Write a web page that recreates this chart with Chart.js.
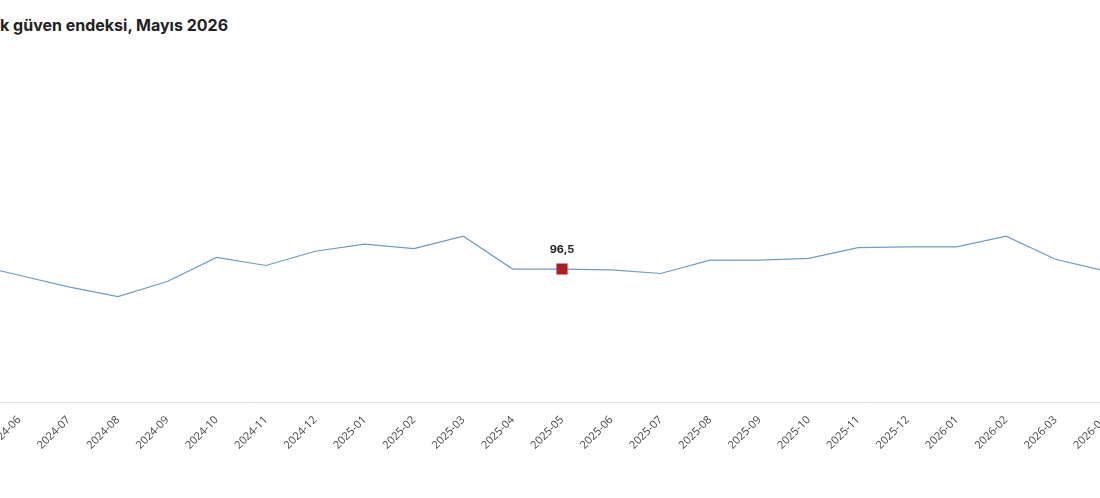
<!DOCTYPE html>
<html><head><meta charset="utf-8">
<script src="https://cdn.jsdelivr.net/npm/chart.js@4"></script>
<style>
html,body{margin:0;padding:0;background:#fff;overflow:hidden;width:1100px;height:498px;position:relative;font-family:Inter,"Noto Sans",sans-serif}
#title{position:absolute;top:15px;left:0;font-size:16px;font-weight:700;color:#222;white-space:nowrap}
#wrap{position:absolute;left:-63px;top:0;width:1250px;height:498px}
</style></head><body>
<div id="title"><span id="pre">Ekonomi</span>k güven endeksi, Mayıs 2026</div>
<div id="wrap"><canvas id="c"></canvas></div>
<script>
const categories=["2024-05","2024-06","2024-07","2024-08","2024-09","2024-10","2024-11","2024-12","2025-01","2025-02","2025-03","2025-04","2025-05","2025-06","2025-07","2025-08","2025-09","2025-10","2025-11","2025-12","2026-01","2026-02","2026-03","2026-04","2026-05"];
const values=[97.1,95.8,94.5,93.4,95.1,97.8,96.9,98.5,99.3,98.8,100.2,96.5,96.5,96.4,96.0,97.5,97.5,97.7,98.9,99.0,99.0,100.2,97.6,96.3,96.0];
const labelled=["2025-05","2026-05"];
const pre=document.getElementById('pre');
pre.style.marginLeft=(-pre.getBoundingClientRect().width)+'px';
const fmt=v=>v.toFixed(1).replace('.',',');
const labelPlugin={id:'lbl',afterDatasetsDraw(ch){const ctx=ch.ctx;const m=ch.getDatasetMeta(0);ctx.save();ctx.font='bold 11px Inter, sans-serif';ctx.fillStyle='#222';ctx.textAlign='center';ctx.textBaseline='bottom';
m.data.forEach((p,i)=>{if(labelled.includes(categories[i]))ctx.fillText(fmt(values[i]),p.x,p.y-14);});ctx.restore();}};
new Chart(document.getElementById('c'),{type:'line',
data:{labels:categories,datasets:[{data:values,borderColor:'#6e9cc4',borderWidth:1.2,tension:0,
pointStyle:'rect',pointRadius:categories.map(c=>labelled.includes(c)?7:0),pointBackgroundColor:'#b01c24',pointBorderColor:'#b01c24',pointHoverRadius:0}]},
options:{responsive:true,maintainAspectRatio:false,animation:false,
layout:{padding:{top:60,left:0,right:0,bottom:43}},
plugins:{legend:{display:false},tooltip:{enabled:false}},
scales:{y:{display:false,min:81.5,max:120},
x:{offset:true,grid:{display:false},border:{display:true,color:'#e3e3e3'},
ticks:{maxRotation:45,minRotation:45,autoSkip:false,color:'#444',font:{size:11,family:'"Open Sans", sans-serif'}}}}},
plugins:[labelPlugin]});
</script></body></html>
